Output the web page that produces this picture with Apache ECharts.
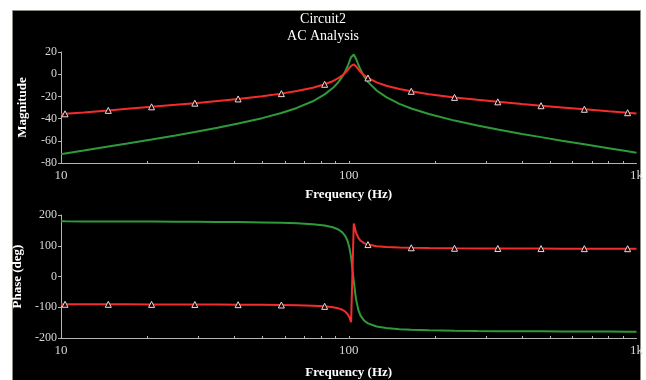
<!DOCTYPE html>
<html>
<head>
<meta charset="utf-8">
<script src="https://cdn.jsdelivr.net/npm/echarts@6/dist/echarts.min.js"></script>
<style>html,body{margin:0;padding:0;background:#fff;}#c{width:646px;height:380px;}</style>
</head>
<body>
<div id="c"></div>
<script>
// Frequency samples (Hz)
const freq = [10, 10.33, 12, 14.6, 17, 20.64, 25, 29.18, 35, 41.26, 50, 58.33, 66, 75, 82.47, 88, 92, 95, 97, 99, 100.5, 101.9, 104.1, 106, 108, 110, 113, 116.6, 125, 135, 150, 164.9, 190, 233.1, 280, 329.6, 400, 465.9, 550, 658.8, 800, 931.4, 1000];
// Magnitude (dB)
const magRed = [-36.0, -35.7, -34.4, -32.6, -31.2, -29.4, -27.6, -26.1, -24.1, -22.3, -19.8, -17.5, -15.2, -12.2, -9.1, -6.3, -3.6, -1.1, 1.0, 3.5, 5.6, 7.6, 8.9, 7.0, 4.3, 1.9, -0.9, -3.4, -7.4, -10.4, -13.3, -15.4, -18.0, -20.9, -23.1, -24.9, -26.9, -28.4, -29.9, -31.6, -33.4, -34.7, -35.4];
const magGreen = [-72.0, -71.4, -68.8, -65.2, -62.5, -58.9, -55.2, -52.1, -48.3, -44.5, -39.6, -34.9, -30.4, -24.4, -18.2, -12.5, -7.2, -2.2, 1.9, 6.9, 11.3, 15.3, 17.8, 14.0, 8.5, 3.7, -1.9, -6.9, -14.7, -20.7, -26.7, -30.9, -35.9, -41.8, -46.2, -49.8, -53.8, -56.7, -59.9, -63.2, -66.7, -69.4, -70.7];
// Phase (deg)
const phaseRed = [-90.3, -90.3, -90.4, -90.5, -90.6, -90.7, -90.8, -91.0, -91.3, -91.6, -92.1, -92.7, -93.5, -95.0, -97.1, -99.9, -103.5, -108.2, -113.4, -121.9, -132.7, -148.8, 172.4, 142.8, 125.4, 116.1, 108.6, 103.8, 98.7, 96.2, 94.4, 93.4, 92.6, 91.8, 91.4, 91.2, 90.9, 90.8, 90.6, 90.5, 90.4, 90.4, 90.4];
const phaseGreen = [179.4, 179.3, 179.2, 179.0, 178.9, 178.6, 178.3, 178.0, 177.5, 176.9, 175.8, 174.6, 172.9, 170.0, 165.7, 160.1, 152.9, 143.5, 133.2, 116.2, 94.6, 62.4, -15.2, -74.4, -109.2, -127.8, -142.9, -152.4, -162.5, -167.6, -171.2, -173.1, -174.9, -176.3, -177.2, -177.7, -178.2, -178.4, -178.7, -178.9, -179.1, -179.3, -179.3];
// Marker positions on the red trace
const markerFreq = [10.33, 14.6, 20.64, 29.18, 41.26, 58.33, 82.47, 116.6, 164.9, 233.1, 329.6, 465.9, 658.8, 931.4];
// Axis ticks / labels
const xLabelVals = [10, 100, 1000];
const xTickVals = [20, 30, 40, 50, 60, 70, 80, 90, 100, 200, 300, 400, 500, 600, 700, 800, 900];

const FONT = 'Liberation Serif';
const AX = '#b4b4b4';
const LBL = '#d6d6d6';
const RED = '#f42c2c';
const GREEN = '#2f9a3a';

function plain(vals) { return freq.map((f, i) => [f, vals[i]]); }
function marked(vals) {
  return freq.map((f, i) => ({ value: [f, vals[i]], symbol: markerFreq.indexOf(f) >= 0 ? 'triangle' : 'none' }));
}
function xAxis(g, gap) {
  return {
    type: 'log', logBase: 10, min: 10, max: 1000, gridIndex: g,
    axisLine: { show: true, onZero: false, lineStyle: { color: AX, width: 1 } },
    axisTick: { show: true, inside: true, length: 2, customValues: xTickVals, lineStyle: { color: AX } },
    axisLabel: { customValues: xLabelVals, formatter: v => v >= 1000 ? (v / 1000) + 'k' : String(v), color: LBL, fontFamily: FONT, fontSize: 13, margin: 6 },
    splitLine: { show: false }, minorTick: { show: false },
    name: 'Frequency (Hz)', nameLocation: 'middle', nameGap: gap,
    nameTextStyle: { color: '#fff', fontFamily: FONT, fontSize: 13, fontWeight: 'bold' }
  };
}
function yAxis(g, min, max, iv, name) {
  return {
    type: 'value', min: min, max: max, interval: iv, gridIndex: g,
    axisLine: { show: true, onZero: false, lineStyle: { color: AX, width: 1 } },
    axisTick: { show: true, length: 3, lineStyle: { color: AX } },
    axisLabel: { color: LBL, fontFamily: FONT, fontSize: 12, margin: 4 },
    splitLine: { show: false },
    name: name, nameLocation: 'middle', nameGap: 32, nameRotate: 90,
    nameTextStyle: { color: '#fff', fontFamily: FONT, fontSize: 13, fontWeight: 'bold' }
  };
}
function lineSeries(x, y, data, color, z, withMarkers) {
  return {
    type: 'line', xAxisIndex: x, yAxisIndex: y, data: data, z: z,
    showSymbol: withMarkers, symbol: withMarkers ? 'triangle' : 'none', symbolSize: 6,
    itemStyle: { color: '#1a0000', borderColor: '#e8d8d8', borderWidth: 1 },
    lineStyle: { color: color, width: 2 }, smooth: false, animation: false
  };
}

const chart = echarts.init(document.getElementById('c'), null, { renderer: 'canvas' });
chart.setOption({
  backgroundColor: '#ffffff',
  animation: false,
  graphic: [
    { type: 'rect', z: -10, shape: { x: 12.5, y: 10.5, width: 628, height: 380 }, style: { fill: '#000', stroke: '#8a8a80', lineWidth: 1 } }
  ],
  title: {
    text: 'Circuit2\nAC Analysis', left: 'center', top: 6,
    textStyle: { color: '#fff', fontFamily: FONT, fontSize: 14, fontWeight: 'normal', lineHeight: 17 }
  },
  grid: [
    { left: 61, top: 52, width: 577, height: 111 },
    { left: 61, top: 215, width: 577, height: 131 }
  ],
  xAxis: [xAxis(0, 25), xAxis(1, 28)],
  yAxis: [yAxis(0, -80, 20, 20, 'Magnitude'), yAxis(1, -200, 200, 100, 'Phase (deg)')],
  series: [
    lineSeries(0, 0, plain(magGreen), GREEN, 2, false),
    lineSeries(0, 0, marked(magRed), RED, 3, true),
    lineSeries(1, 1, plain(phaseGreen), GREEN, 2, false),
    lineSeries(1, 1, marked(phaseRed), RED, 3, true)
  ]
});
</script>
</body>
</html>
